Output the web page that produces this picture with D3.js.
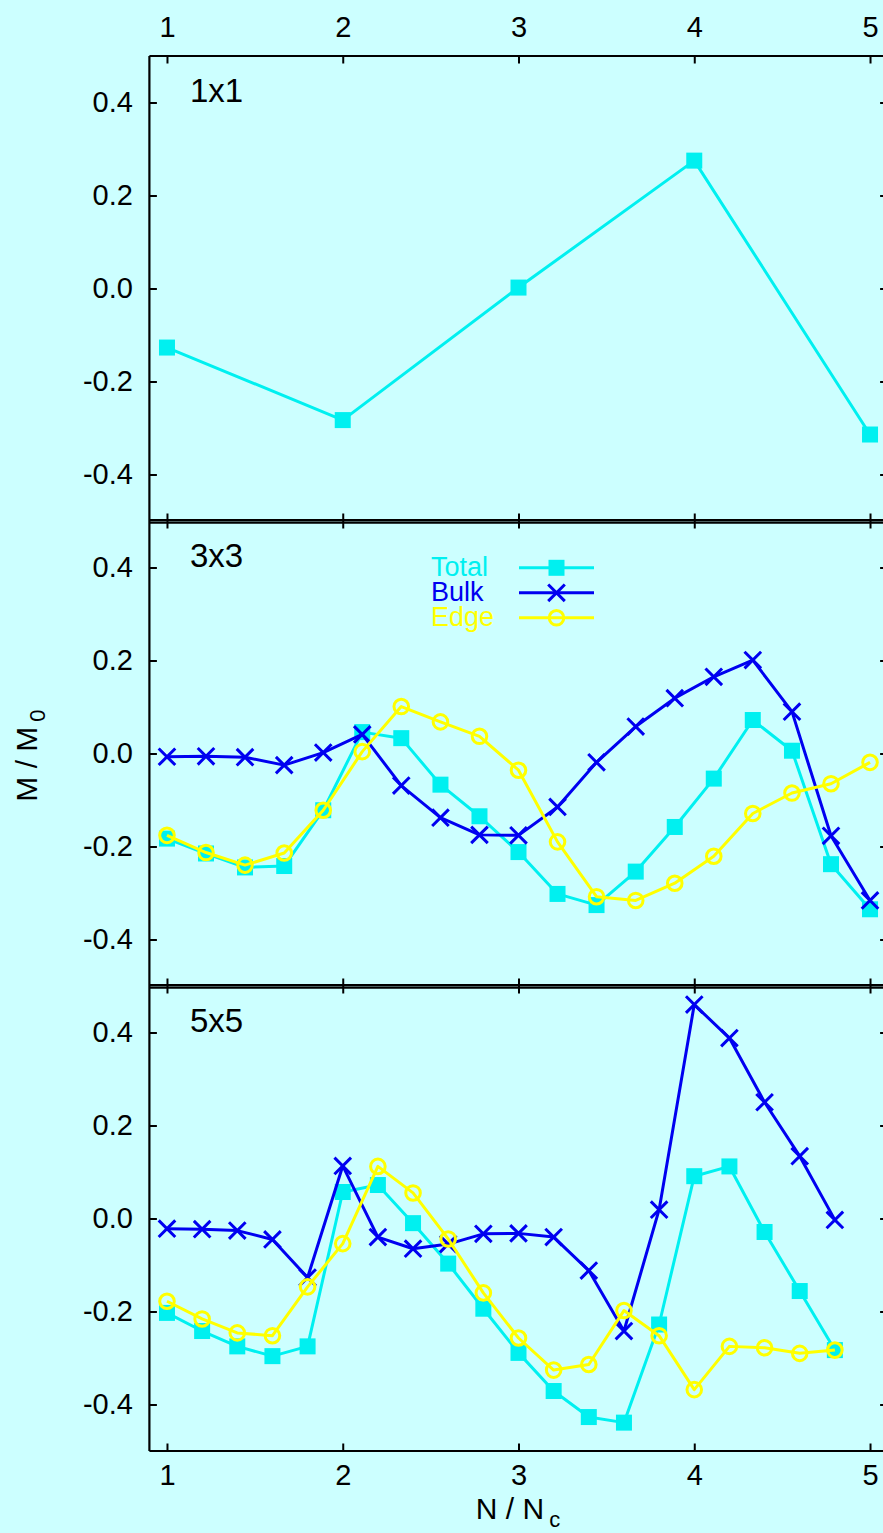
<!DOCTYPE html>
<html>
<head>
<meta charset="utf-8">
<script src="https://cdn.jsdelivr.net/npm/d3@7/dist/d3.min.js"></script>
<style>
  html, body { margin: 0; padding: 0; background: #ccffff; }
  svg { display: block; }
  text { font-family: "Liberation Sans", Arial, Helvetica, sans-serif; fill: #000; }
</style>
</head>
<body>
<svg id="chart" width="883" height="1533"></svg>
<script>
// ---- data ----
const xTicks = [1, 2, 3, 4, 5];
const yTicks = [-0.4, -0.2, 0.0, 0.2, 0.4];
const panelNames = ["1x1", "3x3", "5x5"];
const seriesNames = ["Total", "Bulk", "Edge"];

// 1x1 lattice
const n1x1 = [1, 2, 3, 4, 5];
const total1x1 = [-0.127, -0.283, 0.002, 0.275, -0.314];

// 3x3 lattice
const n3x3 = [1.000, 1.222, 1.444, 1.667, 1.889, 2.111, 2.333, 2.556, 2.778, 3.000,
              3.222, 3.444, 3.667, 3.889, 4.111, 4.333, 4.556, 4.778, 5.000];
const total3x3 = [-0.183, -0.215, -0.245, -0.242, -0.122, 0.046, 0.033, -0.067, -0.135, -0.212,
                  -0.302, -0.326, -0.254, -0.158, -0.054, 0.072, 0.006, -0.238, -0.335];
const bulk3x3 = [-0.007, -0.006, -0.008, -0.025, 0.002, 0.041, -0.069, -0.138, -0.175, -0.176,
                 -0.115, -0.019, 0.058, 0.119, 0.165, 0.201, 0.090, -0.177, -0.316];
const edge3x3 = [-0.176, -0.213, -0.240, -0.214, -0.122, 0.004, 0.101, 0.068, 0.037, -0.036,
                 -0.190, -0.308, -0.316, -0.279, -0.221, -0.129, -0.085, -0.065, -0.019];

// 5x5 lattice
const n5x5 = [1.0, 1.2, 1.4, 1.6, 1.8, 2.0, 2.2, 2.4, 2.6, 2.8,
              3.0, 3.2, 3.4, 3.6, 3.8, 4.0, 4.2, 4.4, 4.6, 4.8];
const total5x5 = [-0.203, -0.242, -0.275, -0.296, -0.275, 0.057, 0.072, -0.010, -0.097, -0.194,
                  -0.289, -0.371, -0.427, -0.439, -0.228, 0.091, 0.112, -0.029, -0.156, -0.283];
const bulk5x5 = [-0.022, -0.023, -0.026, -0.045, -0.127, 0.113, -0.040, -0.065, -0.055, -0.033,
                 -0.032, -0.040, -0.112, -0.242, 0.019, 0.460, 0.388, 0.250, 0.134, -0.003];
const edge5x5 = [-0.178, -0.216, -0.246, -0.252, -0.147, -0.054, 0.112, 0.055, -0.044, -0.160,
                 -0.257, -0.326, -0.314, -0.198, -0.252, -0.368, -0.275, -0.278, -0.290, -0.283];

// ---- styling ----
const colors = { Total: "#00f0f0", Bulk: "#0000f0", Edge: "#ffff00" };
const panelsSpec = [
  { name: panelNames[0], n: n1x1, series: { Total: total1x1 } },
  { name: panelNames[1], n: n3x3, series: { Total: total3x3, Bulk: bulk3x3, Edge: edge3x3 }, legend: true },
  { name: panelNames[2], n: n5x5, series: { Total: total5x5, Bulk: bulk5x5, Edge: edge5x5 } }
];

const W = 883, H = 1533;
const left = 149.4, right = 887.6;
const top0 = 56, panelH = 465;
const tickLen = 7.5;

const svg = d3.select("#chart");
svg.append("rect").attr("width", W).attr("height", H).attr("fill", "#ccffff");

const x = d3.scaleLinear().domain([0.9, 5.1]).range([left, right]);

function marker(g, type, cx, cy, color) {
  if (type === "Total") {
    g.append("rect").attr("x", cx - 8).attr("y", cy - 8).attr("width", 16).attr("height", 16)
      .attr("fill", color);
  } else if (type === "Bulk") {
    const s = 8.3;
    g.append("path")
      .attr("d", `M${cx - s},${cy - s}L${cx + s},${cy + s}M${cx - s},${cy + s}L${cx + s},${cy - s}`)
      .attr("stroke", color).attr("stroke-width", 3).attr("fill", "none");
  } else {
    g.append("circle").attr("cx", cx).attr("cy", cy).attr("r", 7.3)
      .attr("fill", "none").attr("stroke", color).attr("stroke-width", 3);
  }
}

panelsSpec.forEach((p, i) => {
  const top = top0 + i * panelH;
  const bottom = top + panelH;
  const y = d3.scaleLinear().domain([-0.5, 0.5]).range([bottom, top]);
  const g = svg.append("g");

  // clip region for the plotted data
  const clipId = "clip" + i;
  svg.append("clipPath").attr("id", clipId)
    .append("rect").attr("x", left).attr("y", top).attr("width", right - left).attr("height", panelH);

  // y axes (inward ticks on both sides)
  const yAxisL = d3.axisLeft(y).tickValues(yTicks).tickSize(-tickLen).tickPadding(16.5)
    .tickFormat(d => d3.format(".1f")(d).replace("−", "-"));
  const gl = g.append("g").attr("transform", `translate(${left},0)`).call(yAxisL);
  const yAxisR = d3.axisRight(y).tickValues(yTicks).tickSize(-tickLen).tickFormat("");
  const gr = g.append("g").attr("transform", `translate(${right},0)`).call(yAxisR);

  // x axes (inward ticks top and bottom; labels on outermost only)
  const xAxisT = d3.axisTop(x).tickValues(xTicks).tickSize(-tickLen).tickPadding(19)
    .tickFormat(i === 0 ? d3.format("d") : "");
  const gt = g.append("g").attr("transform", `translate(0,${top})`).call(xAxisT);
  const xAxisB = d3.axisBottom(x).tickValues(xTicks).tickSize(-tickLen).tickPadding(13.4)
    .tickFormat(i === panelsSpec.length - 1 ? d3.format("d") : "");
  const gb = g.append("g").attr("transform", `translate(0,${bottom})`).call(xAxisB);

  [gl, gr, gt, gb].forEach(a => {
    a.select(".domain").remove();
    a.selectAll(".tick line").attr("stroke", "#000").attr("stroke-width", 2);
    a.selectAll(".tick text").attr("font-size", 29).attr("fill", "#000")
      .attr("font-family", '"Liberation Sans", Arial, Helvetica, sans-serif');
  });

  // frame
  const frame = g.append("g").attr("stroke", "#000").attr("stroke-width", 2.2).attr("fill", "none");
  frame.append("line").attr("x1", left).attr("x2", left).attr("y1", top).attr("y2", bottom);
  frame.append("line").attr("x1", right).attr("x2", right).attr("y1", top).attr("y2", bottom);
  frame.append("line").attr("x1", left).attr("x2", right)
    .attr("y1", i === 0 ? top : top + 1.6).attr("y2", i === 0 ? top : top + 1.6);
  frame.append("line").attr("x1", left).attr("x2", right).attr("y1", bottom - (i < 2 ? 0.8 : 0)).attr("y2", bottom - (i < 2 ? 0.8 : 0));

  // panel label
  g.append("text").attr("x", 190).attr("y", top + 46).attr("font-size", 33).text(p.name);

  // data series
  const dataG = g.append("g").attr("clip-path", `url(#${clipId})`);
  seriesNames.forEach(s => {
    const vals = p.series[s];
    if (!vals) return;
    const pts = p.n.map((n, k) => [n, vals[k]]);
    const line = d3.line().x(d => x(d[0])).y(d => y(d[1]));
    dataG.append("path").attr("d", line(pts)).attr("fill", "none")
      .attr("stroke", colors[s]).attr("stroke-width", 3).attr("stroke-linejoin", "round");
    const mg = dataG.append("g");
    pts.forEach(d => marker(mg, s, x(d[0]), y(d[1]), colors[s]));
  });

  // legend
  if (p.legend) {
    const lg = g.append("g");
    seriesNames.forEach((s, k) => {
      const ly = top + 46.8 + k * 25;
      lg.append("text").attr("x", 431).attr("y", ly + 8).attr("font-size", 27)
        .style("fill", colors[s]).text(s);
      lg.append("line").attr("x1", 519).attr("x2", 594).attr("y1", ly).attr("y2", ly)
        .attr("stroke", colors[s]).attr("stroke-width", 3);
      marker(lg, s, 556.5, ly, colors[s]);
    });
  }
});

// axis titles
const xt = svg.append("text").attr("x", 518).attr("y", 1519).attr("text-anchor", "middle").attr("font-size", 30);
xt.append("tspan").text("N / N");
xt.append("tspan").attr("dx", 5).attr("dy", 8).attr("font-size", 22).text("c");

const yt = svg.append("text").attr("transform", "translate(37,755.5) rotate(-90)")
  .attr("text-anchor", "middle").attr("font-size", 30);
yt.append("tspan").text("M / M");
yt.append("tspan").attr("dx", 5).attr("dy", 8).attr("font-size", 22).text("0");
</script>
</body>
</html>
